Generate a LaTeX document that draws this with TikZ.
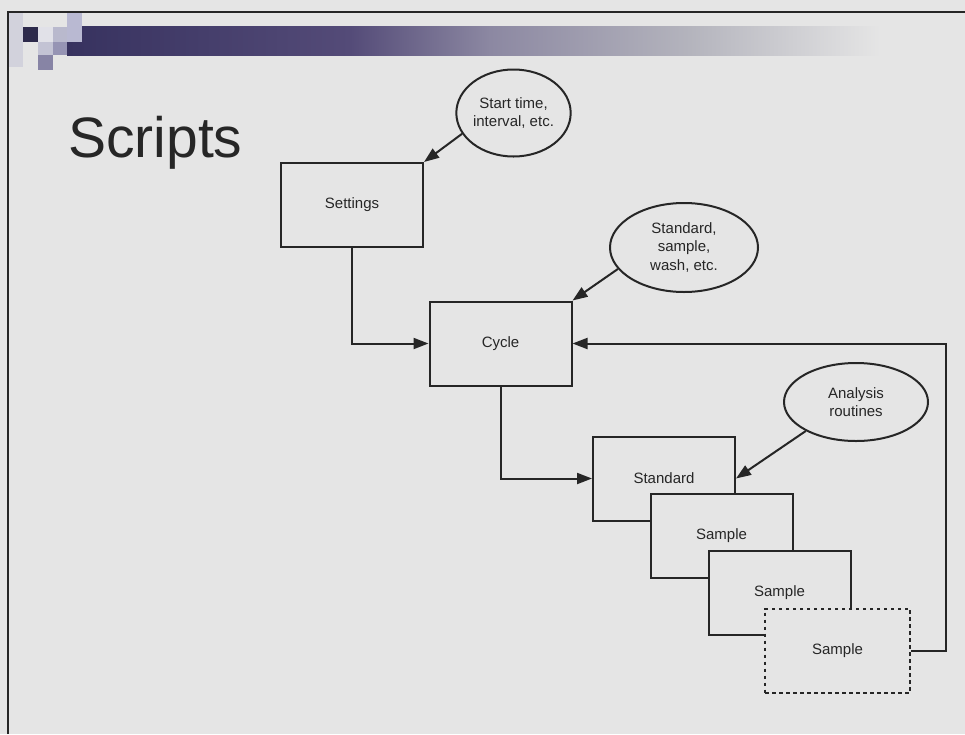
\documentclass[tikz,border=0pt]{standalone}
\usepackage{fontspec}
\setmainfont{Liberation Sans}
\usetikzlibrary{arrows.meta,shapes.geometric,positioning}

\definecolor{slidebg}{RGB}{229,229,229}
\definecolor{ink}{RGB}{38,38,38}
\definecolor{barA}{RGB}{55,50,95}
\definecolor{barB}{RGB}{84,75,120}
\definecolor{barC}{RGB}{140,136,162}
\definecolor{barD}{RGB}{180,180,189}

\tikzset{
	box/.style={draw=ink, line width=2pt, fill=slidebg, minimum width=142pt, minimum height=84pt,
		inner sep=0pt, text=ink, font=\fontsize{15}{18.5}\selectfont},
	dotbox/.style={box, dash pattern=on 3.5pt off 3.5pt},
	bubble/.style={draw=ink, line width=2pt, ellipse, inner sep=0pt, align=center,
		text=ink, font=\fontsize{15}{18.5}\selectfont},
	flow/.style={draw=ink, line width=2pt, -{Triangle[length=15pt,width=11pt]}}
}

\begin{document}
\begin{tikzpicture}[x=1pt, y=-1pt]
			\useasboundingbox[fill=slidebg] (0,0) rectangle (965,734);
			
			\shade[left color=barA, right color=barB] (67,26) rectangle (350,55);
			\shade[left color=barB, right color=barC] (350,26) rectangle (490,55);
			\shade[left color=barC, right color=barD] (490,26) rectangle (690,55);
			\shade[left color=barD, right color=slidebg] (690,26) rectangle (880,55);
			
			\fill[color={rgb,255:red,210;green,210;blue,220}] (8,13) rectangle (23,67);
			\fill[color={rgb,255:red,45;green,42;blue,75}] (23,27) rectangle (38,42);
			\fill[color={rgb,255:red,225;green,225;blue,232}] (38,27) rectangle (53,42);
			\fill[color={rgb,255:red,185;green,185;blue,205}] (53,27) rectangle (67,42);
			\fill[color={rgb,255:red,195;green,195;blue,212}] (38,42) rectangle (53,55);
			\fill[color={rgb,255:red,150;green,148;blue,180}] (53,42) rectangle (67,55);
			\fill[color={rgb,255:red,185;green,185;blue,210}] (67,13) rectangle (82,42);
			\fill[color={rgb,255:red,135;green,132;blue,165}] (38,55) rectangle (53,70);
			\draw[color=ink, line width=1.2pt] (8,734) -- (8,12) -- (965,12);
			
			\node[anchor=base west, inner sep=0pt, text=ink, font=\fontsize{57}{60}\selectfont] (title) at (68,157) {Scripts};
			
			\node[box] (settings) at (352,205) {Settings};
			\node[box] (cycle) at (500.5,343.5) {Cycle};
			\node[box] (standard) at (664,478.5) {Standard};
			\node[box] (sample) at (721.5,535.5) {Sample};
			\node[box] (resample) at (779.5,593) {Sample};
			\node[dotbox, minimum width=145pt] (last) at (837.5,650.5) {Sample};
			
			\node[bubble, minimum width=113pt, minimum height=87pt] (times) at (513.5,113) {Start time,\\interval, etc.};
			\node[bubble, minimum width=148pt, minimum height=89pt] (kinds) at (684,247.5) {Standard,\\sample,\\wash, etc.};
			\node[bubble, minimum width=144pt, minimum height=78pt] (routines) at (856,402) {Analysis\\routines};
			
			\draw[flow] (times.202) -- (settings.north east);
			\draw[flow] (settings.south) |- (cycle.west);
			\draw[flow] (kinds.198) -- (cycle.north east);
			\draw[flow] (cycle.south) |- (standard.west);
			\draw[flow] (routines.210) -- (standard.east);
			\draw[flow] (last.east) -- ++(35,0) |- (cycle.east);
\end{tikzpicture}
\end{document}
